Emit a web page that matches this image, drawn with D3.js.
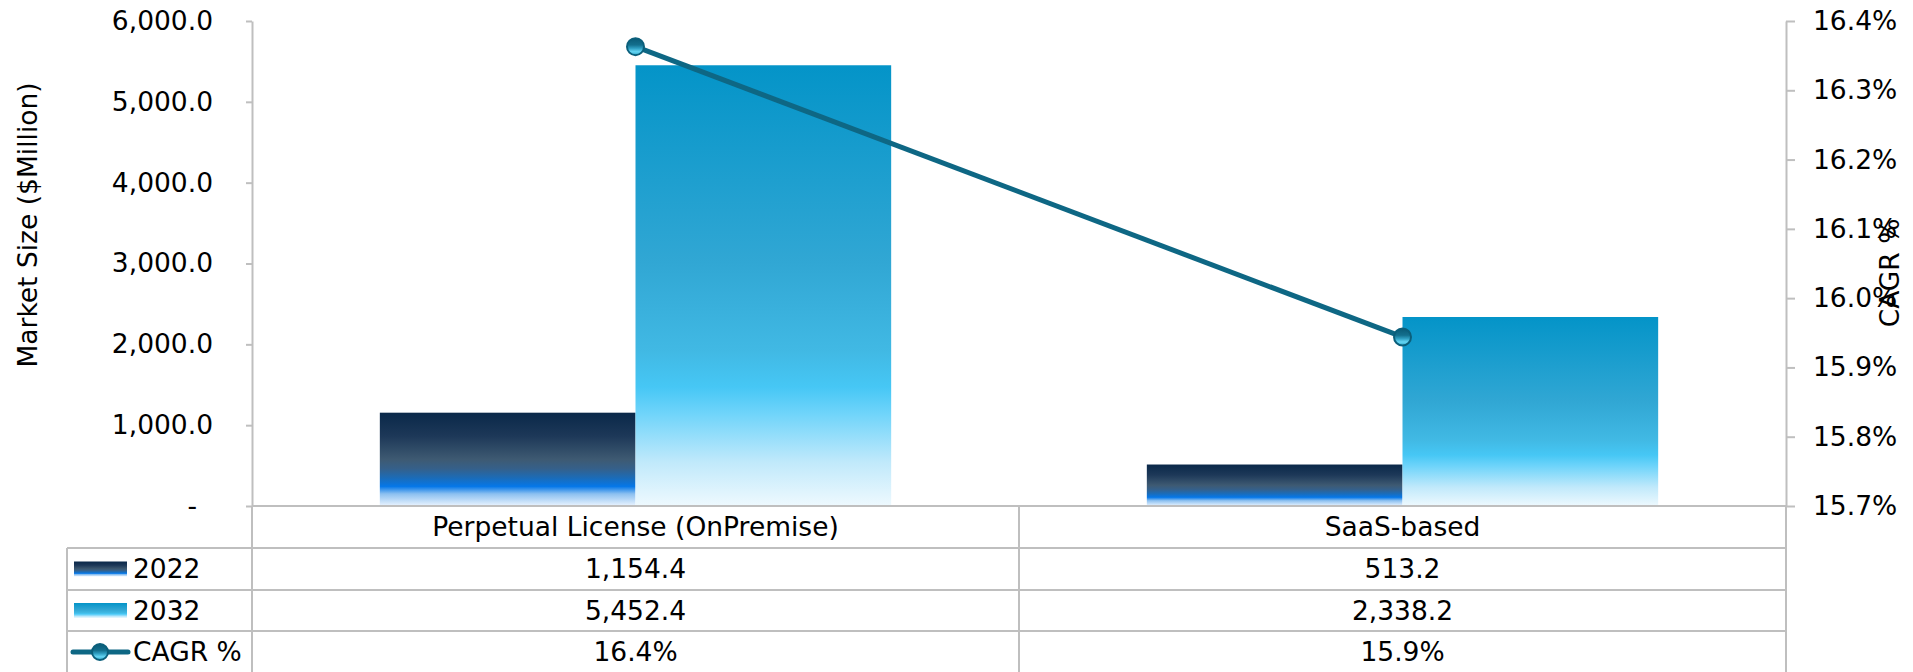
<!DOCTYPE html>
<html>
<head>
<meta charset="utf-8">
<script src="https://cdn.jsdelivr.net/npm/d3@7"></script>
<style>
  html, body { margin: 0; padding: 0; background: #ffffff; }
  svg { display: block; font-family: "DejaVu Sans", Verdana, sans-serif; }
</style>
</head>
<body>
<svg id="chart" width="1913" height="672"></svg>
<script>
// ---- data ----
const categories = ["Perpetual License (OnPremise)", "SaaS-based"];
const years = ["2022", "2032"];
const values2022 = [1154.4, 513.2];
const values2032 = [5452.4, 2338.2];
const cagrValues = [0.16363, 0.15944];
const leftTicks = [0, 1000, 2000, 3000, 4000, 5000, 6000];
const rightTicks = [0.157, 0.158, 0.159, 0.160, 0.161, 0.162, 0.163, 0.164];
const legendLabels = ["2022", "2032", "CAGR %"];

// ---- layout ----
const W = 1913, H = 672;
const plotLeft = 252, plotRight = 1786, plotTop = 21, plotBottom = 506;
const tableLeft = 67;
const rowEdges = [506, 548, 590, 631, 673];   // header row, then one row per series
const fontSize = 26.5;
const gridColor = "#bfbfbf";

const svg = d3.select("#chart");
const defs = svg.append("defs");

function addGradient(id, stops) {
  const g = defs.append("linearGradient").attr("id", id)
    .attr("x1", 0).attr("y1", 0).attr("x2", 0).attr("y2", 1);
  stops.forEach(([o, c]) => g.append("stop").attr("offset", o).attr("stop-color", c));
}
addGradient("grad2022", [
  [0, "#0a2849"], [0.25, "#1d3858"], [0.5, "#3e5a72"], [0.6, "#35608a"],
  [0.7, "#1b6cb8"], [0.79, "#0577e8"], [0.87, "#8cc0f0"], [1, "#eaf4ff"]
]);
addGradient("grad2032", [
  [0, "#0494c8"], [0.45, "#31a7d4"], [0.65, "#41b9e4"], [0.73, "#46c7f5"],
  [0.79, "#6fd4fa"], [0.9, "#c0e9fb"], [1, "#eef9fe"]
]);
addGradient("gradMarker", [
  [0, "#0a5a76"], [0.4, "#136f8d"], [0.6, "#2f9fc2"], [0.8, "#66d6f4"], [1, "#2aa6c8"]
]);
const barFill = { "2022": "url(#grad2022)", "2032": "url(#grad2032)" };
const seriesValues = { "2022": values2022, "2032": values2032 };

// ---- scales ----
const x0 = d3.scaleBand().domain(categories).range([plotLeft, plotRight]).padding(0);
const x1 = d3.scaleBand().domain(years).range([0, x0.bandwidth()])
  .paddingInner(0).paddingOuter(0.5);
const y = d3.scaleLinear().domain([0, 6000]).range([plotBottom, plotTop]);
const yR = d3.scaleLinear().domain([0.157, 0.164]).range([plotBottom, plotTop]);

const fmtMoney = d3.format(",.1f");
const fmtPct = d3.format(".1%");

// ---- bars ----
const barG = svg.append("g");
categories.forEach((cat, i) => {
  years.forEach(yr => {
    const v = seriesValues[yr][i];
    barG.append("rect")
      .attr("x", x0(cat) + x1(yr))
      .attr("y", y(v))
      .attr("width", x1.bandwidth())
      .attr("height", y(0) - y(v))
      .attr("fill", barFill[yr]);
  });
});

// ---- axes ----
const leftAxis = svg.append("g")
  .attr("transform", `translate(${plotLeft},0)`)
  .call(d3.axisLeft(y).tickValues(leftTicks).tickSize(6).tickSizeOuter(0).tickPadding(33)
    .tickFormat(d => d === 0 ? "-" : fmtMoney(d)));
leftAxis.selectAll("text").filter(d => d === 0).attr("x", -55);

const rightAxis = svg.append("g")
  .attr("transform", `translate(${plotRight},0)`)
  .call(d3.axisRight(yR).tickValues(rightTicks).tickSize(9).tickSizeOuter(0).tickPadding(18)
    .tickFormat(fmtPct));

[leftAxis, rightAxis].forEach(a => {
  a.select(".domain").attr("stroke", gridColor).attr("stroke-width", 2);
  a.selectAll(".tick line").attr("stroke", gridColor).attr("stroke-width", 2);
  a.selectAll(".tick text").attr("fill", "#000").style("font-size", fontSize + "px")
    .style("font-family", "\"DejaVu Sans\", Verdana, sans-serif");
});

svg.append("text")
  .attr("transform", `translate(28,225) rotate(-90)`)
  .attr("text-anchor", "middle").attr("dy", "0.35em")
  .style("font-size", fontSize + "px").attr("fill", "#000")
  .text("Market Size ($Million)");

svg.append("text")
  .attr("transform", `translate(1890,273) rotate(-90)`)
  .attr("text-anchor", "middle").attr("dy", "0.35em")
  .style("font-size", fontSize + "px").attr("fill", "#000")
  .text("CAGR %");

// ---- data table ----
const tableG = svg.append("g").attr("stroke", gridColor).attr("stroke-width", 2);
// horizontal rules
tableG.append("line").attr("x1", plotLeft).attr("x2", plotRight)
  .attr("y1", rowEdges[0]).attr("y2", rowEdges[0]);
rowEdges.slice(1, 4).forEach(ry => {
  tableG.append("line").attr("x1", tableLeft).attr("x2", plotRight).attr("y1", ry).attr("y2", ry);
});
// vertical rules
tableG.append("line").attr("x1", tableLeft).attr("x2", tableLeft)
  .attr("y1", rowEdges[1]).attr("y2", H);
[plotLeft, ...categories.map(c => x0(c) + x0.bandwidth())].forEach(vx => {
  tableG.append("line").attr("x1", vx).attr("x2", vx).attr("y1", rowEdges[0]).attr("y2", H);
});

const rowMid = k => (rowEdges[k] + rowEdges[k + 1]) / 2;
const textG = svg.append("g").style("font-size", fontSize + "px").attr("fill", "#000");

// header: category names
categories.forEach(cat => {
  textG.append("text").attr("x", x0(cat) + x0.bandwidth() / 2).attr("y", rowMid(0))
    .attr("dy", "0.35em").attr("text-anchor", "middle").text(cat);
});
// series rows
const rowData = [values2022.map(fmtMoney), values2032.map(fmtMoney), cagrValues.map(fmtPct)];
rowData.forEach((row, k) => {
  row.forEach((txt, i) => {
    textG.append("text").attr("x", x0(categories[i]) + x0.bandwidth() / 2).attr("y", rowMid(k + 1))
      .attr("dy", "0.35em").attr("text-anchor", "middle").text(txt);
  });
});
// legend keys
years.forEach((yr, k) => {
  svg.append("rect").attr("x", 74).attr("y", rowMid(k + 1) - 7.5)
    .attr("width", 53).attr("height", 15).attr("fill", barFill[yr]);
});
const lgY = rowMid(3);
svg.append("line").attr("x1", 73).attr("x2", 128).attr("y1", lgY).attr("y2", lgY)
  .attr("stroke", "#0e6784").attr("stroke-width", 5).attr("stroke-linecap", "round");
svg.append("circle").attr("cx", 100).attr("cy", lgY).attr("r", 8)
  .attr("fill", "url(#gradMarker)").attr("stroke", "#0b5f7b").attr("stroke-width", 2);
legendLabels.forEach((lbl, k) => {
  textG.append("text").attr("x", 133).attr("y", rowMid(k + 1)).attr("dy", "0.35em").text(lbl);
});

// ---- CAGR line ----
const linePts = categories.map((c, i) => [x0(c) + x0.bandwidth() / 2, yR(cagrValues[i])]);
svg.append("path").attr("d", d3.line()(linePts))
  .attr("fill", "none").attr("stroke", "#0e6784").attr("stroke-width", 5);
svg.selectAll("circle.pt").data(linePts).enter().append("circle").attr("class", "pt")
  .attr("cx", d => d[0]).attr("cy", d => d[1]).attr("r", 8.5)
  .attr("fill", "url(#gradMarker)").attr("stroke", "#0b5f7b").attr("stroke-width", 2);
</script>
</body>
</html>
